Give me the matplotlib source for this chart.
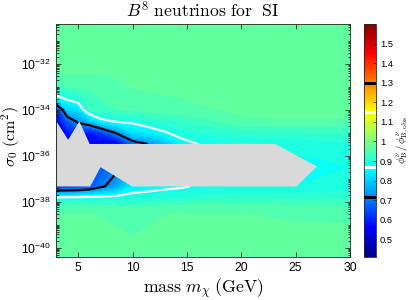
import numpy as np
import matplotlib
matplotlib.use('Agg')
import matplotlib.pyplot as plt
from matplotlib.colors import Normalize, LinearSegmentedColormap
from matplotlib.cm import ScalarMappable

plt.rcParams['mathtext.fontset'] = 'custom'
plt.rcParams['mathtext.rm'] = 'Liberation Sans'
plt.rcParams['mathtext.it'] = 'Liberation Sans:italic'
plt.rcParams['mathtext.bf'] = 'Liberation Sans:bold'
plt.rcParams['font.family'] = ['Liberation Sans', 'DejaVu Sans']

# ---------------- data ----------------
mass = [3, 4, 5, 6, 7, 8.5, 10, 11.5, 13, 14.5, 16, 20, 23, 25, 27, 30]
log_sigma = [-40.4, -39.4, -38.3, -37.8, -37.33, -36.5, -35.48, -35.0,
             -34.5, -34.0, -33.5, -33.0, -32.4, -30.26]
# flux ratio phi_B / phi_B,obs ; rows follow log_sigma, columns follow mass
ratio = [
    [0.970, 0.970, 0.970, 0.970, 0.970, 0.970, 0.970, 0.970, 0.970, 0.970, 0.970, 0.970, 0.970, 0.970, 0.970, 0.970],
    [0.968, 0.968, 0.968, 0.968, 0.966, 0.965, 0.958, 0.965, 0.967, 0.968, 0.968, 0.968, 0.968, 0.968, 0.968, 0.968],
    [0.958, 0.958, 0.958, 0.958, 0.957, 0.950, 0.945, 0.950, 0.957, 0.958, 0.958, 0.958, 0.955, 0.952, 0.950, 0.948],
    [0.868, 0.871, 0.875, 0.878, 0.882, 0.886, 0.890, 0.893, 0.896, 0.900, 0.905, 0.910, 0.910, 0.910, 0.910, 0.915],
    [0.620, 0.625, 0.630, 0.650, 0.700, 0.750, 0.840, 0.850, 0.860, 0.865, 0.875, 0.880, 0.880, 0.880, 0.885, 0.890],
    [0.600, 0.600, 0.600, 0.640, 0.660, 0.700, 0.800, 0.850, 0.860, 0.870, 0.875, 0.880, 0.880, 0.875, 0.872, 0.880],
    [0.550, 0.550, 0.550, 0.550, 0.550, 0.530, 0.676, 0.720, 0.780, 0.850, 0.870, 0.880, 0.880, 0.885, 0.890, 0.895],
    [0.550, 0.580, 0.620, 0.580, 0.620, 0.720, 0.820, 0.840, 0.865, 0.890, 0.900, 0.910, 0.915, 0.915, 0.920, 0.920],
    [0.550, 0.660, 0.730, 0.780, 0.850, 0.875, 0.880, 0.900, 0.910, 0.920, 0.930, 0.955, 0.958, 0.958, 0.958, 0.958],
    [0.600, 0.800, 0.820, 0.920, 0.930, 0.940, 0.945, 0.950, 0.950, 0.955, 0.955, 0.965, 0.967, 0.967, 0.967, 0.967],
    [0.850, 0.880, 0.900, 0.930, 0.940, 0.945, 0.950, 0.955, 0.958, 0.959, 0.965, 0.970, 0.970, 0.970, 0.970, 0.970],
    [0.930, 0.940, 0.945, 0.945, 0.945, 0.948, 0.961, 0.964, 0.966, 0.967, 0.970, 0.970, 0.970, 0.970, 0.970, 0.970],
    [0.962, 0.962, 0.962, 0.962, 0.962, 0.964, 0.966, 0.970, 0.970, 0.970, 0.970, 0.970, 0.970, 0.970, 0.970, 0.970],
    [0.970, 0.970, 0.970, 0.970, 0.970, 0.970, 0.970, 0.970, 0.970, 0.970, 0.970, 0.970, 0.970, 0.970, 0.970, 0.970],
]
# excluded (grey) region boundary
gray_mass = [3, 4.07, 5.1, 6.05, 23.1, 26.96, 25.06, 9.95, 7.05, 6.1, 3]
gray_logsig = [-34.5, -35.3, -34.5, -35.48, -35.48, -36.46, -37.33, -37.33, -36.49, -37.33, -37.33]

line_levels = [0.715, 0.87]
line_colors = ['black', 'white']
cbar_line_levels = [0.715, 0.87, 1.15, 1.3]
cbar_line_colors = ['black', 'white', 'white', 'black']
cbar_ticks = [0.5, 0.6, 0.7, 0.8, 0.9, 1.0, 1.1, 1.2, 1.3, 1.4, 1.5]
cbar_ticklabels = ['0.5', '0.6', '0.7', '0.8', '0.9', '1', '1.1', '1.2', '1.3', '1.4', '1.5']
xticks = [5, 10, 15, 20, 25, 30]
yticks = [-40, -38, -36, -34, -32]
ytick_labels = [r'$10^{-40}$', r'$10^{-38}$', r'$10^{-36}$', r'$10^{-34}$', r'$10^{-32}$']
clim = (0.41, 1.6)

# ---------------- figure ----------------
mjet = LinearSegmentedColormap.from_list(
    'mjet', [(0.0, (0, 0, 0.52)), (0.125, (0, 0, 1)), (0.375, (0, 1, 1)),
             (0.625, (1, 1, 0)), (0.875, (1, 0, 0)), (1.0, (0.5, 0, 0))], N=256)
norm = Normalize(*clim)

fig = plt.figure(figsize=(4.13, 3.0), dpi=100)
ax = fig.add_axes([0.1368, 0.1433, 0.7107, 0.7767])

levels = np.arange(0.40, 1.62, 0.02)
ax.contourf(mass, log_sigma, ratio, levels=levels, cmap=mjet, norm=norm, zorder=1)
ax.contour(mass, log_sigma, ratio, levels=line_levels, colors=line_colors,
           linewidths=1.6, zorder=2)
ax.fill(gray_mass, gray_logsig, color='#d9d9d9', lw=0, zorder=3)

ax.set_xlim(3, 30)
ax.set_ylim(-40.4, -30.26)
ax.set_xticks(xticks)
ax.set_yticks(yticks)
ax.set_yticklabels(ytick_labels)
minor = []
for d in range(-41, -29):
    for k in range(1, 10):
        v = d + np.log10(k)
        if -40.4 < v < -30.26 and not (k == 1 and d in yticks):
            minor.append(v)
ax.set_yticks(minor, minor=True)

tc = (0.15, 0.15, 0.15)
ax.tick_params(which='both', direction='in', top=True, right=True, colors=tc,
               labelsize=8.7, width=0.6)
ax.tick_params(which='major', length=3.5)
ax.tick_params(which='minor', length=1.8)
ax.tick_params(axis='y', pad=4)
for lab in ax.get_yticklabels() + ax.get_xticklabels():
    lab.set_color('black')
for s in ax.spines.values():
    s.set_color(tc)
    s.set_linewidth(0.6)
    s.set_zorder(5)

ax.set_title(r'$B^8\ \mathrm{neutrinos\ for\ \ SI}$', fontsize=12.7,
             math_fontfamily='cm', pad=5)
ax.set_xlabel(r'$\mathrm{mass}\ m_\chi\ \mathrm{(GeV)}$', fontsize=12.7,
              math_fontfamily='cm', labelpad=2)
ax.set_ylabel(r'$\sigma_0\ \mathrm{(cm^2)}$', fontsize=11.5,
              math_fontfamily='cm')
ax.yaxis.set_label_coords(-0.118, 0.517)

cax = fig.add_axes([0.881, 0.1433, 0.029, 0.7767])
sm = ScalarMappable(norm=norm, cmap=mjet)
cb = fig.colorbar(sm, cax=cax)
cb.set_ticks(cbar_ticks)
cb.set_ticklabels(cbar_ticklabels)
cb.outline.set_edgecolor(tc)
cb.outline.set_linewidth(0.6)
cax.tick_params(direction='in', length=2, labelsize=6.7, colors=tc, width=0.5, pad=3)
for lab in cax.get_yticklabels():
    lab.set_color('black')
for lv, c in zip(cbar_line_levels, cbar_line_colors):
    cax.axhline(lv, color=c, lw=2.2)
cb.set_label(r'$\phi^\nu_\mathrm{B}\,/\,\phi^\nu_\mathrm{B,obs}$', fontsize=7.6,
             math_fontfamily='cm')
cax.yaxis.set_label_coords(2.62, 0.5)

fig.savefig('out.png', dpi=100)
